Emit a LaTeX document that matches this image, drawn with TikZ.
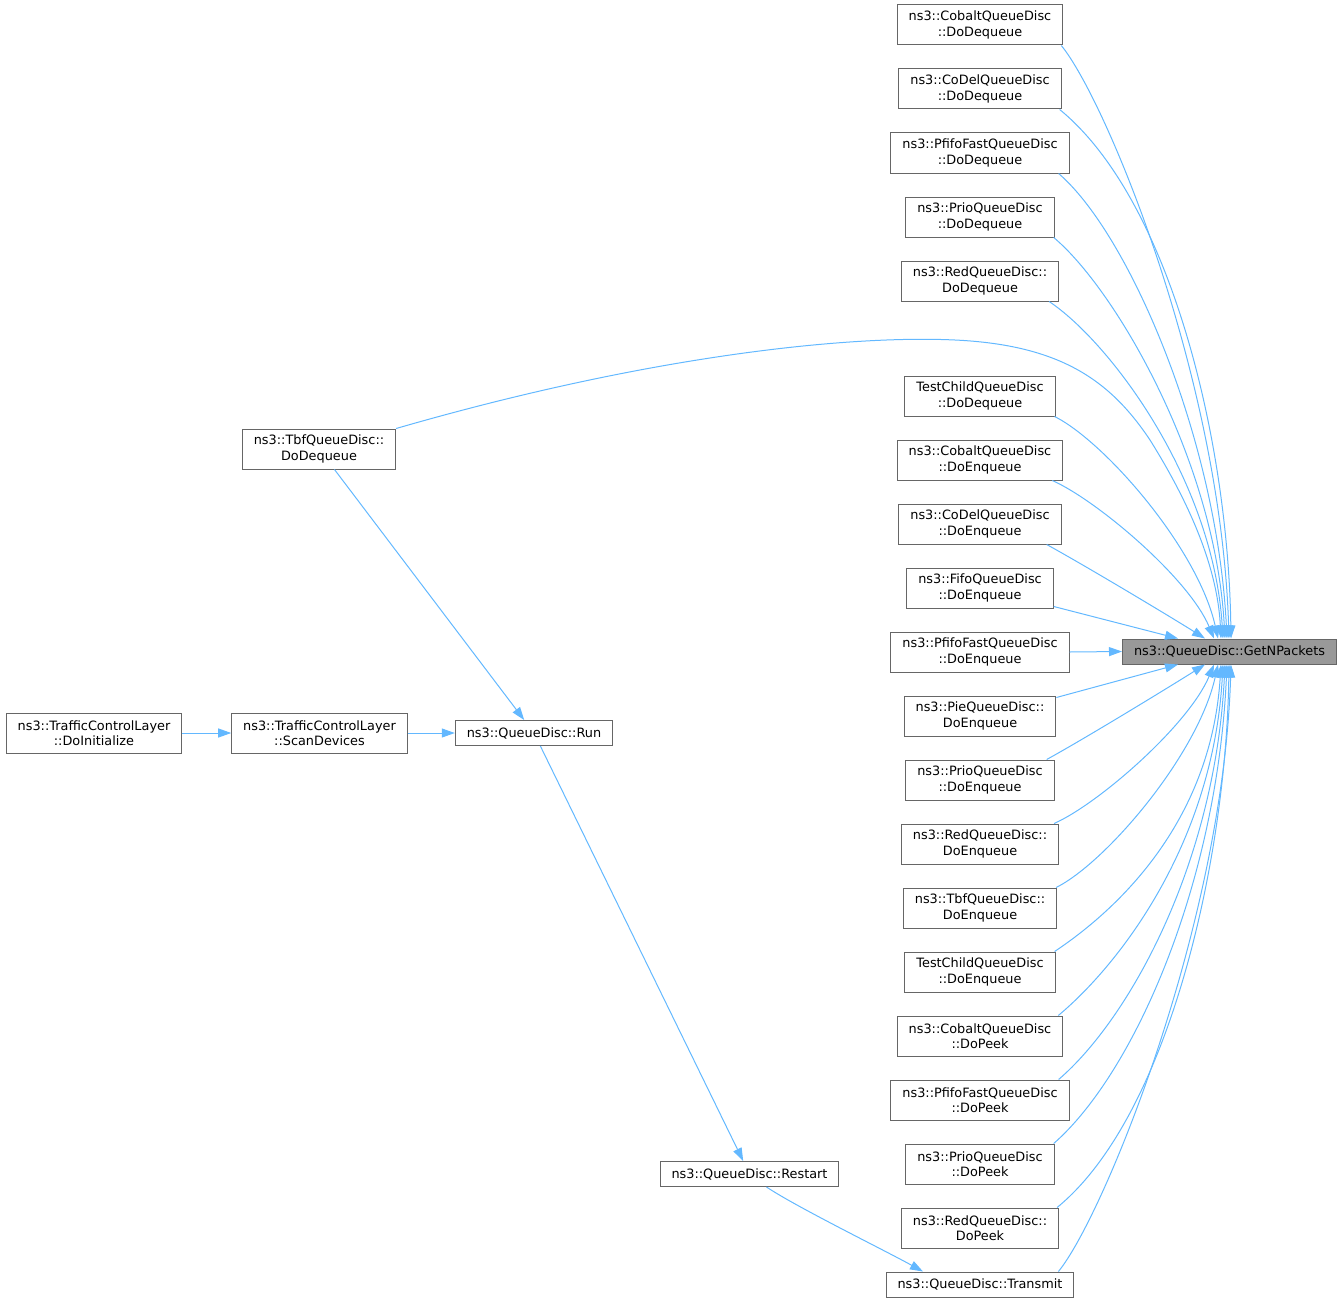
\documentclass[tikz,border=0pt]{standalone}
\usepackage{fontspec}
\setmainfont{DejaVu Sans}
\usetikzlibrary{arrows.meta}

\definecolor{edgeblue}{HTML}{63B8FF}
\definecolor{boxgray}{HTML}{666666}
\definecolor{hlgray}{HTML}{999999}

\tikzset{
	box/.style={draw=boxgray, fill=white, line width=1pt, align=center,
		inner xsep=11.5pt, inner ysep=0pt, minimum height=40pt,
		font=\fontsize{12.85}{15.3}\selectfont},
	onebox/.style={box, minimum height=25pt},
	edge/.style={draw=edgeblue, line width=1pt, -{Triangle[length=13pt, width=9pt]}}
}

\begin{document}
\begin{tikzpicture}[x=1pt, y=-1pt]
		\useasboundingbox (0,0) rectangle (1343,1303);

		% Callee
		\node[onebox, fill=hlgray] (getn) at (1229.5, 651.5) {ns3::QueueDisc::GetNPackets};

		% Right column
		\foreach \n/\t/\y in {
				cdeq/{ns3::CobaltQueueDisc\\::DoDequeue}/25,
				codeldeq/{ns3::CoDelQueueDisc\\::DoDequeue}/89,
				pfdeq/{ns3::PfifoFastQueueDisc\\::DoDequeue}/153,
				priodeq/{ns3::PrioQueueDisc\\::DoDequeue}/217,
				reddeq/{ns3::RedQueueDisc::\\DoDequeue}/281,
				tcdeq/{TestChildQueueDisc\\::DoDequeue}/396,
				cenq/{ns3::CobaltQueueDisc\\::DoEnqueue}/460,
				codelenq/{ns3::CoDelQueueDisc\\::DoEnqueue}/524,
				fifoenq/{ns3::FifoQueueDisc\\::DoEnqueue}/588,
				pfenq/{ns3::PfifoFastQueueDisc\\::DoEnqueue}/652,
				pieenq/{ns3::PieQueueDisc::\\DoEnqueue}/716,
				prioenq/{ns3::PrioQueueDisc\\::DoEnqueue}/780,
				redenq/{ns3::RedQueueDisc::\\DoEnqueue}/844,
				tbfenq/{ns3::TbfQueueDisc::\\DoEnqueue}/908,
				tcenq/{TestChildQueueDisc\\::DoEnqueue}/972,
				cpeek/{ns3::CobaltQueueDisc\\::DoPeek}/1036,
				pfpeek/{ns3::PfifoFastQueueDisc\\::DoPeek}/1100,
				priopeek/{ns3::PrioQueueDisc\\::DoPeek}/1164,
				redpeek/{ns3::RedQueueDisc::\\DoPeek}/1228}
			{
				\node[box] (\n) at (980, \y) {\t};
			}
		\node[onebox] (transmit) at (980, 1284.5) {ns3::QueueDisc::Transmit};

		% Left part
		\node[box] (tbfdeq) at (319, 449) {ns3::TbfQueueDisc::\\DoDequeue};
		\node[box] (doinit) at (94, 733) {ns3::TrafficControlLayer\\::DoInitialize};
		\node[box] (scan) at (319.5, 733) {ns3::TrafficControlLayer\\::ScanDevices};
		\node[onebox] (run) at (534, 733) {ns3::QueueDisc::Run};
		\node[onebox] (restart) at (749.5, 1174) {ns3::QueueDisc::Restart};

		% Edges to GetNPackets, from above
		\draw[edge] ([xshift=-2]cdeq.south east) .. controls +(45,55) and +(-8,-260) .. ([xshift=-0.5]getn.north);
		\draw[edge] ([xshift=-2]codeldeq.south east) .. controls +(110,90) and +(-3,-200) .. ([xshift=1.5]getn.north);
		\draw[edge] ([xshift=-11]pfdeq.south east) .. controls +(70,60) and +(-10,-200) .. ([xshift=-2.5]getn.north);
		\draw[edge] ([xshift=-1]priodeq.south east) .. controls +(60,50) and +(-10,-180) .. ([xshift=-4.5]getn.north);
		\draw[edge] ([xshift=-10]reddeq.south east) .. controls +(60,40) and +(-10,-160) .. ([xshift=-6.5]getn.north);
		\draw[edge] (tbfdeq.north east) .. controls (650,355) and (850,335) .. (955,340)
			.. controls (1060,345) and (1110,380) .. (1150,440)
			.. controls (1200,520) and (1218,580) .. ([xshift=-8.5]getn.north);
		\draw[edge] ([xshift=-1]tcdeq.south east) .. controls +(50,25) and +(-20,-90) .. ([xshift=-11.5]getn.north);
		\draw[edge] ([xshift=-11]cenq.south east) .. controls +(45,20) and +(-25,-60) .. ([xshift=-15.5]getn.north);
		\draw[edge] ([xshift=-15]codelenq.south east) .. controls +(40,22) and +(-35,-22) .. ([xshift=-24.5]getn.north);
		\draw[edge] ([yshift=2]fifoenq.south east) -- ([xshift=-51.5]getn.north);

		% Edges to GetNPackets, level and from below
		\draw[edge] (pfenq.east) -- (getn.west);
		\draw[edge] ([yshift=-2]pieenq.north east) -- ([xshift=-51.5]getn.south);
		\draw[edge] ([xshift=-8]prioenq.north east) .. controls +(40,-22) and +(-35,22) .. ([xshift=-24.5]getn.south);
		\draw[edge] ([xshift=-5]redenq.north east) .. controls +(45,-20) and +(-25,60) .. ([xshift=-15.5]getn.south);
		\draw[edge] ([xshift=-1]tbfenq.north east) .. controls +(50,-25) and +(-20,90) .. ([xshift=-11.5]getn.south);
		\draw[edge] ([xshift=-1]tcenq.north east) .. controls +(60,-40) and +(-10,160) .. ([xshift=-8.5]getn.south);
		\draw[edge] ([xshift=-5]cpeek.north east) .. controls +(60,-50) and +(-10,180) .. ([xshift=-6.5]getn.south);
		\draw[edge] ([xshift=-11]pfpeek.north east) .. controls +(70,-60) and +(-10,200) .. ([xshift=-4.5]getn.south);
		\draw[edge] ([xshift=-1]priopeek.north east) .. controls +(80,-70) and +(-10,220) .. ([xshift=-2.5]getn.south);
		\draw[edge] ([xshift=-2]redpeek.north east) .. controls +(110,-90) and +(-3,200) .. ([xshift=-0.5]getn.south);
		\draw[edge] ([xshift=-16]transmit.north east) .. controls +(45,-55) and +(-8,260) .. ([xshift=1.5]getn.south);

		% Call chain on the left
		\draw[edge] (doinit) -- (scan);
		\draw[edge] (scan) -- (run);
		\draw[edge] (tbfdeq) -- (run);
		\draw[edge] (run) -- (restart);
		\draw[edge] ([xshift=17]restart.south) .. controls +(30,20) and +(-40,-22) .. ([xshift=-57]transmit.north);
	\end{tikzpicture}
\end{document}
